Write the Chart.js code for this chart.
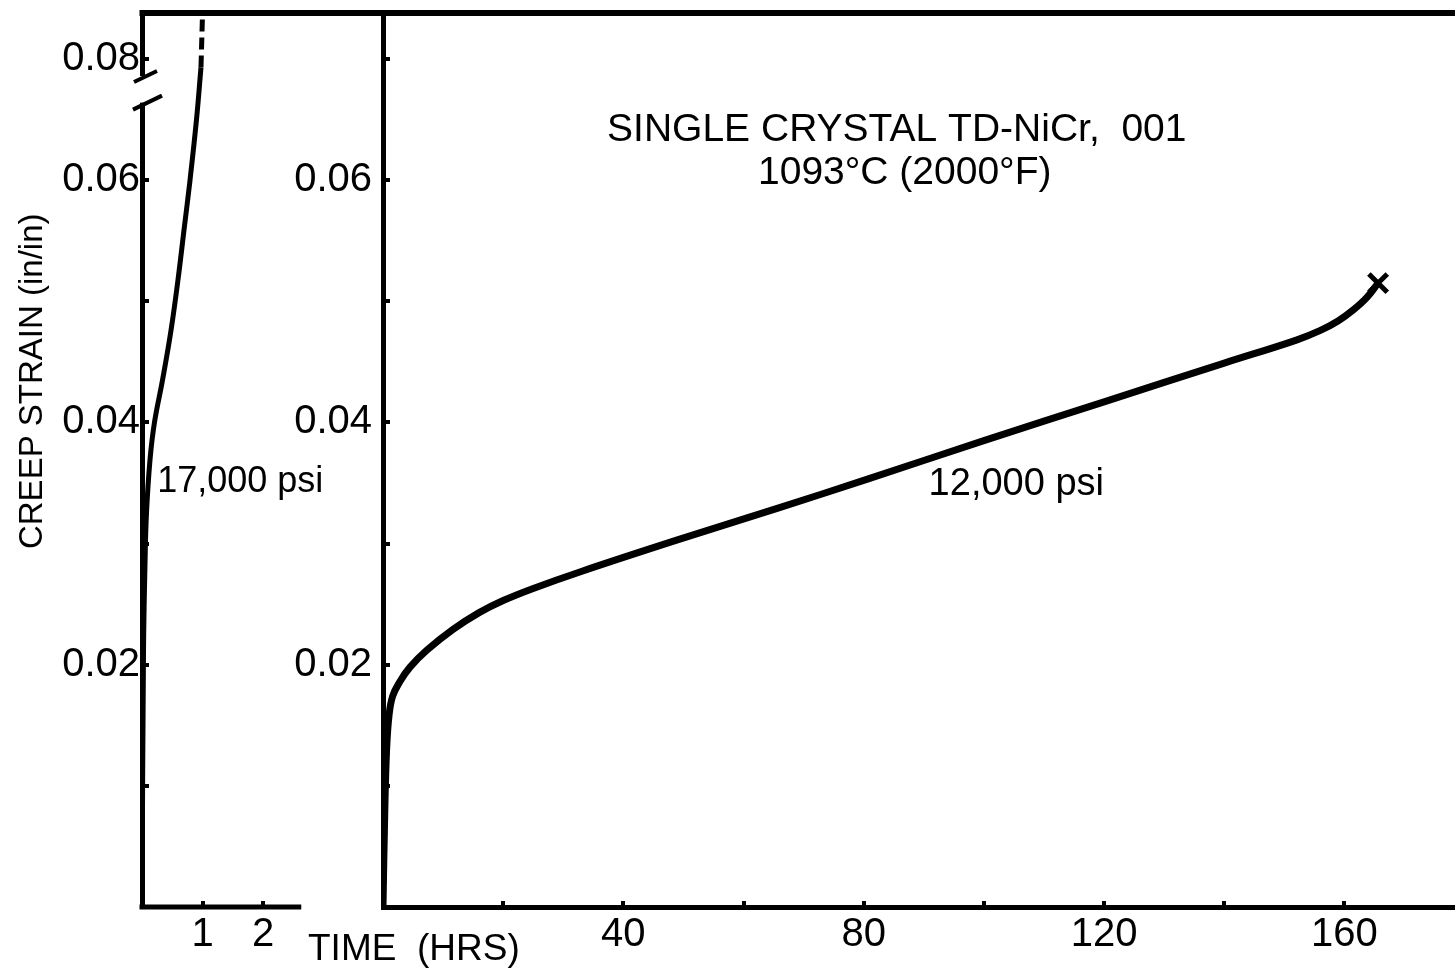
<!DOCTYPE html>
<html><head><meta charset="utf-8">
<script src="https://cdn.jsdelivr.net/npm/chart.js@4.4.1/dist/chart.umd.min.js"></script>
<style>
html,body{margin:0;padding:0;background:#fff;width:1455px;height:968px;overflow:hidden}
canvas{position:absolute;top:0}
#left{left:0}
#right{left:290px}
</style></head><body>
<canvas id="left" width="384" height="968"></canvas>
<canvas id="right" width="1165" height="968"></canvas>
<script>
// ---------- data ----------
const strainTicks = [0.01, 0.02, 0.03, 0.04, 0.05, 0.06, 0.07];
const leftStrainLabels = ['', '0.02', '', '0.04', '', '0.06', '0.08']; // broken axis: top tick reads 0.08
const rightStrainLabels = ['', '0.02', '', '0.04', '', '0.06', ''];
const leftTimeTicks = [1, 2];
const leftTimeLabels = ['1', '2'];
const rightTimeTicks = [20, 40, 60, 80, 100, 120, 140, 160];
const rightTimeLabels = ['', '40', '', '80', '', '120', '', '160'];
const leftTimeAxisEnd = 2.63;

// 17,000 psi curve (hours, in/in)
const time17k   = [0, 0.025, 0.05, 0.074, 0.132, 0.206, 0.339, 0.479, 0.595, 0.694, 0.793, 0.900, 0.974];
const strain17k = [0, 0.0212, 0.0284, 0.0325, 0.0369, 0.0400, 0.0435, 0.0476, 0.0518, 0.0559, 0.0600, 0.0650, 0.0693];
// extrapolated (dashed) part above the break
const time17kDashed   = [0.974, 1.0];
const strain17kDashed = [0.0693, 0.0738];

// 12,000 psi curve
const time12k   = [0, 0.3, 0.6, 1.0, 1.6, 2.8, 4.5, 7.3, 11.6, 16, 20, 25, 33, 49, 65.6, 80.5, 100, 120, 140, 152, 156, 159, 161.5, 163.7, 165.6];
const strain12k = [0, 0.008, 0.013, 0.0158, 0.0174, 0.0186, 0.0198, 0.0212, 0.0229, 0.0243, 0.0253, 0.0263, 0.0277, 0.0303, 0.0329, 0.0353, 0.0385, 0.0417, 0.0449, 0.0468, 0.0476, 0.0484, 0.0493, 0.0503, 0.0515];
const rupture12kTime = [165.6];
const rupture12kStrain = [0.0515];

const titleLines = ['SINGLE CRYSTAL TD-NiCr,  001', '1093°C (2000°F)'];
const label17k = '17,000 psi';
const label12k = '12,000 psi';
const xTitle = 'TIME  (HRS)';
const yTitle = 'CREEP STRAIN (in/in)';

// ---------- style ----------
const FONT = '"Liberation Sans", Arial, sans-serif';
const INK = '#000';
const STRAIN_MAX = 0.0738;
Chart.defaults.font.family = FONT;
Chart.defaults.color = INK;

const pts = (xs, ys) => xs.map((x, i) => ({x, y: ys[i]}));

function yAxis(labels, padding, width) {
  return {
    type: 'linear', position: 'left', min: 0, max: STRAIN_MAX,
    afterBuildTicks: s => { s.ticks = strainTicks.map(v => ({value: v})); },
    afterFit: s => { s.width = width; s.paddingTop = 0; s.paddingBottom = 0; s.paddingLeft = 0; s.paddingRight = 0; },
    ticks: { padding, font: {size: 40}, color: INK,
      callback: (v, i) => labels[i] },
    grid: { drawOnChartArea: false, tickLength: -7, lineWidth: 4, color: INK },
    border: { display: true, width: 5, color: INK }
  };
}
function xAxis(max, ticks, labels, showBorder) {
  return {
    type: 'linear', position: 'bottom', min: 0, max,
    afterBuildTicks: s => { s.ticks = ticks.map(v => ({value: v})); },
    afterFit: s => { s.height = 61; s.paddingLeft = 0; s.paddingRight = 0; s.paddingTop = 0; s.paddingBottom = 0; },
    ticks: { padding: 10, font: {size: 40}, color: INK, maxRotation: 0,
      callback: (v, i) => labels[i] },
    grid: { drawOnChartArea: false, tickLength: -6, lineWidth: 4, color: INK },
    border: { display: showBorder, width: 5, color: INK }
  };
}

function text(ctx, str, x, y, size, align, base) {
  ctx.save();
  ctx.font = `${size}px ${FONT}`;
  ctx.fillStyle = INK;
  ctx.textAlign = align || 'left';
  ctx.textBaseline = base || 'middle';
  ctx.fillText(str, x, y);
  ctx.restore();
}
function topBorder(chart, extraRight) {
  const {ctx, chartArea} = chart;
  ctx.save();
  ctx.strokeStyle = INK; ctx.lineWidth = 6;
  ctx.beginPath();
  ctx.moveTo(chartArea.left - 2.5, chartArea.top);
  ctx.lineTo(chartArea.right + extraRight, chartArea.top);
  ctx.stroke();
  ctx.restore();
}

const leftDecor = {
  id: 'leftDecor',
  afterDraw(chart) {
    const {ctx, scales: {x, y}} = chart;
    const ax = x.getPixelForValue(0);
    topBorder(chart, 2);
    ctx.save();
    ctx.strokeStyle = INK; ctx.lineCap = 'butt';
    // bottom axis line (short)
    ctx.lineWidth = 5;
    ctx.beginPath();
    ctx.moveTo(ax - 2.5, y.bottom);
    ctx.lineTo(x.getPixelForValue(leftTimeAxisEnd), y.bottom);
    ctx.stroke();
    // axis break
    const yA = y.getPixelForValue(0.0686), yB = y.getPixelForValue(0.0664);
    ctx.fillStyle = '#fff';
    ctx.fillRect(ax - 5, yA, 10, yB - yA);
    ctx.lineWidth = 4;
    ctx.beginPath();
    ctx.moveTo(ax - 8, yA + 6); ctx.lineTo(ax + 15, yA - 5);
    ctx.moveTo(ax - 9, yB + 7); ctx.lineTo(ax + 20, yB - 7);
    ctx.stroke();
    ctx.restore();
    text(ctx, label17k, x.getPixelForValue(0.25), y.getPixelForValue(0.0351), 36, 'left');
    ctx.save();
    ctx.translate(33, y.getPixelForValue(0.0434));
    ctx.rotate(-Math.PI / 2);
    text(ctx, yTitle, 0, 0, 33, 'center', 'middle');
    ctx.restore();
  }
};

const rightDecor = {
  id: 'rightDecor',
  afterDraw(chart) {
    const {ctx, scales: {x, y}} = chart;
    topBorder(chart, 0);
    const cx = x.getPixelForValue(85.5);
    text(ctx, titleLines[0], cx, y.getPixelForValue(0.0641), 39, 'center');
    text(ctx, titleLines[1], cx + 8, y.getPixelForValue(0.0606), 39, 'center');
    text(ctx, label12k, x.getPixelForValue(90.8), y.getPixelForValue(0.0349), 38, 'left');
    text(ctx, xTitle, x.left - 75, y.bottom + 43, 37, 'left');
  }
};

new Chart(document.getElementById('left'), {
  type: 'line',
  data: { datasets: [
    { data: pts(time17k, strain17k), borderColor: INK, borderWidth: 5, pointRadius: 0,
      tension: 0.4, fill: false },
    { data: pts(time17kDashed, strain17kDashed), borderColor: INK, borderWidth: 5, pointRadius: 0,
      borderDash: [12, 6], fill: false }
  ]},
  options: {
    responsive: false, animation: false, devicePixelRatio: 1,
    layout: { autoPadding: false, padding: { top: 13, right: 1, left: 0, bottom: 0 } },
    plugins: { legend: { display: false }, tooltip: { enabled: false } },
    scales: {
      x: xAxis(3.98, leftTimeTicks, leftTimeLabels, false),
      y: yAxis(leftStrainLabels, 9, 142)
    }
  },
  plugins: [leftDecor]
});

new Chart(document.getElementById('right'), {
  type: 'line',
  data: { datasets: [
    { data: pts(time12k, strain12k), borderColor: INK, borderWidth: 7, pointRadius: 0,
      tension: 0.4, fill: false },
    { data: pts(rupture12kTime, rupture12kStrain), showLine: false, pointStyle: 'crossRot',
      pointRadius: 13, borderColor: INK, pointBorderWidth: 5 }
  ]},
  options: {
    responsive: false, animation: false, devicePixelRatio: 1,
    layout: { autoPadding: false, padding: { top: 13, right: 0, left: 0, bottom: 0 } },
    plugins: { legend: { display: false }, tooltip: { enabled: false } },
    scales: {
      x: xAxis(178.4, rightTimeTicks, rightTimeLabels, true),
      y: yAxis(rightStrainLabels, 18, 93)
    }
  },
  plugins: [rightDecor]
});
</script>
</body></html>
